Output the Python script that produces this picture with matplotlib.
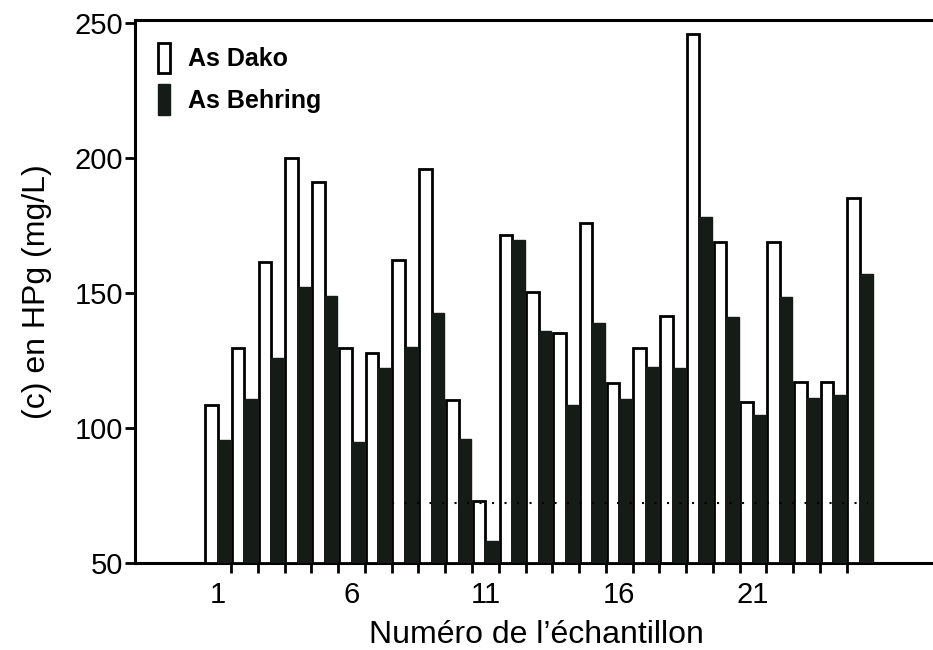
import matplotlib.pyplot as plt
from matplotlib.patches import Patch

plt.rcParams['font.family'] = ['Liberation Sans', 'DejaVu Sans']

# values (mg/L)
samples = list(range(1, 26))
dako = [108.5, 129.6, 161.5, 200, 191, 129.6, 127.8, 162, 196, 110.4,
        73, 171.5, 150.4, 135, 176, 116.7, 129.6, 141.5, 246, 169,
        109.6, 169, 117, 117, 185]
behring = [95.5, 110.7, 126, 152, 149, 94.8, 122, 130, 142.6, 96,
           58, 169.6, 136, 108.5, 139, 110.7, 122.6, 122, 178, 141,
           104.8, 148.5, 111, 112, 157]
tick_samples = [1, 6, 11, 16, 21]
dotted_level = 72

fig = plt.figure(figsize=(9.33, 6.5), dpi=100)
ax = fig.add_axes([0.145, 0.134, 0.86, 0.835])

w = 0.47
dark = '#151b17'
ax.bar([s - w / 2 for s in samples], [d - 50 for d in dako], bottom=50, width=w,
       color='white', edgecolor='black', linewidth=2, zorder=3)
ax.bar([s + w / 2 for s in samples], [b - 50 for b in behring], bottom=50, width=w,
       color=dark, edgecolor=dark, linewidth=1, zorder=3)

# dotted reference line
ax.hlines(dotted_level, 7.5, 25.3, colors='black', linestyles=(0, (1, 5)),
          linewidth=1.5, zorder=4)

ax.set_xlim(-2.08, 27.9)
ax.set_ylim(50, 251)
ax.set_yticks([50, 100, 150, 200, 250])
ax.set_xticks(tick_samples)
ax.set_xticks([s + 0.5 for s in samples[:-1]], minor=True)
ax.tick_params(axis='x', which='major', length=0, pad=13, labelsize=21)
ax.tick_params(axis='x', which='minor', length=7, width=2, direction='out')
ax.tick_params(axis='y', length=7, width=2, direction='out', labelsize=21, pad=2)

for side in ['left', 'bottom', 'top']:
    ax.spines[side].set_linewidth(2.2)
ax.spines['right'].set_visible(False)

ax.set_xlabel("Numéro de l’échantillon", fontsize=23, labelpad=8)
ax.set_ylabel("(c) en HPg (mg/L)", fontsize=23, labelpad=16)

handles = [Patch(facecolor='white', edgecolor='black', linewidth=2, label='As Dako'),
           Patch(facecolor=dark, edgecolor=dark, label='As Behring')]
leg = ax.legend(handles=handles, loc='upper left', frameon=False,
                handlelength=0.5, handleheight=1.5, handletextpad=0.7,
                labelspacing=0.45, borderaxespad=0.5,
                prop={'weight': 'bold', 'size': 18})

fig.savefig('out.png', dpi=100)
